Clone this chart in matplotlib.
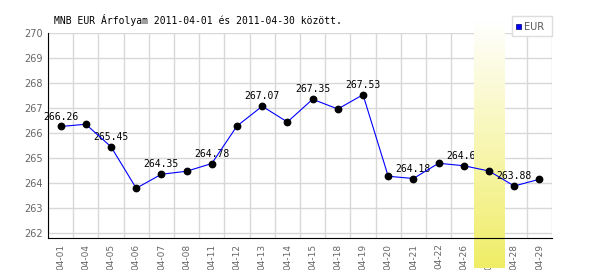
import numpy as np
import matplotlib
matplotlib.use("Agg")
import matplotlib.pyplot as plt
from matplotlib.patches import Rectangle

# values
dates = ["04-01", "04-04", "04-05", "04-06", "04-07", "04-08", "04-11", "04-12",
         "04-13", "04-14", "04-15", "04-18", "04-19", "04-20", "04-21", "04-22",
         "04-26", "04-27", "04-28", "04-29"]
rates = [266.26, 266.35, 265.45, 263.79, 264.35, 264.47, 264.78, 266.28,
         267.07, 266.44, 267.35, 266.96, 267.53, 264.27, 264.18, 264.79,
         264.69, 264.48, 263.88, 264.15]
labelled = [0, 2, 4, 6, 8, 10, 12, 14, 16, 18]
highlight = "04-27"
title = "MNB EUR Árfolyam 2011-04-01 és 2011-04-30 között."

fig = plt.figure(figsize=(6.0, 2.7), dpi=100)
ax = fig.add_axes([0.08, 0.1185, 0.84, 0.7593])

x = np.arange(len(dates))
ymin, ymax = 261.8, 270

# grid: column boundaries + integer levels
for b in np.arange(-0.5, len(dates) + 0.5, 1):
    ax.axvline(b, color="#d8d8d8", lw=1, zorder=0)
for v in range(262, 271):
    ax.axhline(v, color="#d8d8d8", lw=1, zorder=0)

# highlighted day: vertical gradient band reaching over the tick labels
hi = dates.index(highlight)
t = np.linspace(0, 1, 256)[:, None, None]
top = np.array([1.0, 1.0, 1.0])
bot = np.array([0.94, 0.93, 0.40])
img = top + (bot - top) * t
ax.imshow(img, extent=[hi - 0.6, hi + 0.62, 260.6, 270.48], origin="upper",
          aspect="auto", zorder=2, clip_on=False)

ax.plot(x, rates, color="#0000ff", lw=0.8, zorder=3)
ax.plot(x, rates, "o", color="black", ms=4.6, zorder=4)

# labels before the highlighted day sit under the band, later ones over it
for i in labelled:
    ax.annotate(f"{rates[i]:.2f}", (x[i], rates[i]), xytext=(0, 3.5),
                textcoords="offset points", ha="center", va="bottom",
                family="DejaVu Sans Mono", fontsize=7,
                zorder=1 if i < hi else 3.5)

ax.set_xlim(-0.5, len(dates) - 0.5)
ax.set_ylim(ymin, ymax)
ax.set_yticks(range(262, 271))
ax.set_xticks(x)
ax.set_xticklabels(dates, rotation=90)
ax.tick_params(axis="both", length=0, colors="#666666", labelsize=7)
ax.tick_params(axis="x", pad=4, labelsize=6.5)
ax.tick_params(axis="y", pad=4)
for s in ["top", "right"]:
    ax.spines[s].set_visible(False)
ax.spines["left"].set_color("black")
ax.spines["bottom"].set_color("black")
ax.spines["left"].set_zorder(5)
ax.spines["bottom"].set_zorder(5)

fig.text(54 / 600, 1 - 20 / 270, title, family="DejaVu Sans Mono", fontsize=7,
         va="center", ha="left")

# legend box
fig.patches.append(Rectangle((512 / 600, 1 - 36 / 270), 40 / 600, 20 / 270,
                             transform=fig.transFigure, fc="white", ec="#dddddd", lw=1))
fig.patches.append(Rectangle((516 / 600, 1 - 29 / 270), 5 / 600, 5 / 270,
                             transform=fig.transFigure, fc="#0000ff", ec="#000066", lw=0.5))
fig.text(524 / 600, 1 - 26.5 / 270, "EUR", fontsize=7, color="#555555", va="center")

fig.savefig("out.png", dpi=100)
